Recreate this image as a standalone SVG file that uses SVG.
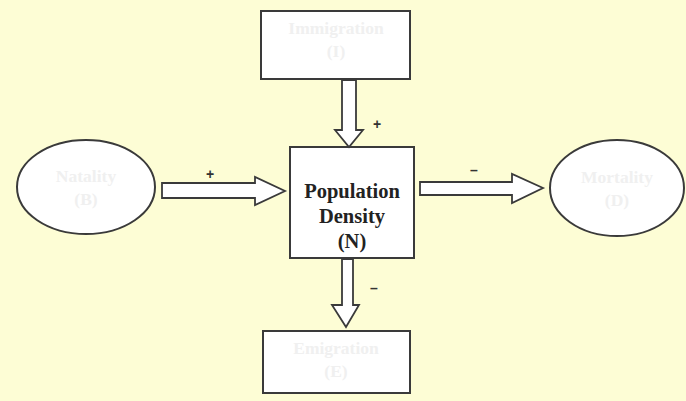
<svg xmlns="http://www.w3.org/2000/svg" width="686" height="401" viewBox="0 0 686 401">
<style>
.box{fill:#ffffff;stroke:#3a3a3a;stroke-width:2}
.arrow{fill:#ffffff;stroke:#3a3a3a;stroke-width:1.8;stroke-linejoin:miter}
.faint{font-family:"Liberation Serif",serif;font-weight:bold;font-size:17.5px;fill:#f0f0f0;text-anchor:middle}
.main{font-family:"Liberation Serif",serif;font-weight:bold;font-size:20.5px;fill:#222;text-anchor:middle}
.sign{font-family:"Liberation Sans",sans-serif;font-weight:bold;font-size:14px;fill:#333;text-anchor:middle}
</style>
<rect x="0" y="0" width="686" height="401" fill="#fdfdd5"/>
<g id="immigration">
<rect class="box" x="261" y="11" width="149" height="68"/>
<text class="faint" x="336" y="34">Immigration</text>
<text class="faint" x="336" y="57">(I)</text>
</g>
<g id="natality">
<ellipse class="box" cx="86" cy="187" rx="69" ry="47"/>
<text class="faint" x="86" y="182">Natality</text>
<text class="faint" x="86" y="205">(B)</text>
</g>
<g id="density">
<rect class="box" x="290" y="147" width="124" height="111"/>
<text class="main" x="352" y="198">Population</text>
<text class="main" x="352" y="223">Density</text>
<text class="main" x="352" y="248">(N)</text>
</g>
<g id="mortality">
<ellipse class="box" cx="617" cy="188" rx="67" ry="48"/>
<text class="faint" x="617" y="183">Mortality</text>
<text class="faint" x="617" y="206">(D)</text>
</g>
<g id="emigration">
<rect class="box" x="263" y="331" width="147" height="62"/>
<text class="faint" x="336" y="354">Emigration</text>
<text class="faint" x="336" y="377">(E)</text>
</g>
<g id="connectors">
<polygon class="arrow" points="342,80 356,80 356,130 363,130 349,147 335,130 342,130"/>
<text class="sign" x="377" y="129">+</text>
<polygon class="arrow" points="162,183 255,183 255,177 285,191 255,205 255,198 162,198"/>
<text class="sign" x="210" y="179">+</text>
<polygon class="arrow" points="420,182 512,182 512,174 543,188 512,203 512,195 420,195"/>
<text class="sign" x="474" y="175">–</text>
<polygon class="arrow" points="342,259 353,259 353,305 359,305 346,327 332,305 342,305"/>
<text class="sign" x="374" y="293">–</text>
</g>
</svg>
